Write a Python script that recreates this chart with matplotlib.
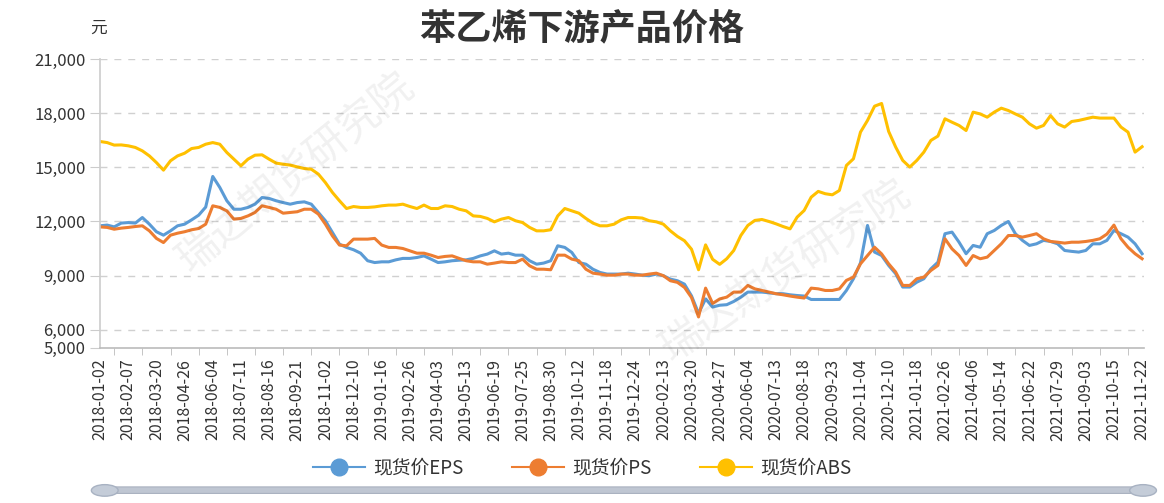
import numpy as np
import matplotlib
matplotlib.use("Agg")
import matplotlib.pyplot as plt
from matplotlib.patches import FancyBboxPatch, Circle
from matplotlib.ticker import FixedLocator, FuncFormatter

plt.rcParams['font.family'] = ['Noto Sans CJK SC', 'DejaVu Sans']

tick_labels = [
    "2018-01-02", "2018-02-07", "2018-03-20", "2018-04-26", "2018-06-04", "2018-07-11",
    "2018-08-16", "2018-09-21", "2018-11-02", "2018-12-10", "2019-01-16", "2019-02-26",
    "2019-04-03", "2019-05-13", "2019-06-19", "2019-07-25", "2019-08-30", "2019-10-12",
    "2019-11-18", "2019-12-24", "2020-02-13", "2020-03-20", "2020-04-27", "2020-06-04",
    "2020-07-13", "2020-08-18", "2020-09-23", "2020-11-04", "2020-12-10", "2021-01-18",
    "2021-02-26", "2021-04-06", "2021-05-14", "2021-06-22", "2021-07-29", "2021-09-03",
    "2021-10-15", "2021-11-22",
]

# values sampled four times per labelled interval
eps = [
    11760, 11800, 11700, 11910, 11940, 11910, 12220, 11850, 11430, 11240,
    11480, 11760, 11850, 12090, 12350, 12800, 14500, 13890, 13150, 12680,
    12680, 12780, 12960, 13330, 13280, 13150, 13050, 12960, 13050, 13090,
    12960, 12500, 12040, 11390, 10740, 10560, 10430, 10240, 9820, 9720,
    9760, 9760, 9870, 9950, 9950, 10000, 10090, 9910, 9720, 9760,
    9820, 9850, 9870, 9950, 10090, 10190, 10370, 10190, 10240, 10130,
    10130, 9820, 9630, 9690, 9820, 10650, 10560, 10280, 9720, 9630,
    9350, 9170, 9080, 9080, 9080, 9130, 9080, 9020, 8990, 9080,
    8990, 8800, 8710, 8520, 7870, 6900, 7700, 7250, 7350,
    7380, 7560, 7800, 8080, 8080, 8080, 8040, 7990, 7990, 7930,
    7890, 7860, 7670, 7670, 7670, 7670, 7670, 8170, 8820, 9700,
    11780, 10300, 10110, 9560, 9100, 8360, 8360, 8630, 8820, 9370,
    9740, 11320, 11410, 10850, 10210, 10670, 10570, 11320, 11500, 11780,
    12000, 11320, 10950, 10670, 10760, 10950, 10890, 10760, 10390, 10340,
    10300, 10390, 10760, 10760, 10950, 11500, 11320, 11130, 10760, 10210,
]

ps = [
    11700, 11670, 11570, 11630, 11670, 11720, 11760, 11480, 11060, 10830,
    11240, 11350, 11430, 11540, 11610, 11850, 12870, 12780, 12590, 12130,
    12170, 12310, 12500, 12870, 12780, 12680, 12460, 12500, 12540, 12680,
    12680, 12410, 11850, 11200, 10690, 10650, 11020, 11020, 11020, 11060,
    10690, 10560, 10560, 10500, 10370, 10240, 10240, 10130, 10000, 10060,
    10090, 9950, 9820, 9760, 9760, 9630, 9690, 9760, 9720, 9720,
    9910, 9540, 9350, 9350, 9320, 10130, 10130, 9910, 9820, 9350,
    9130, 9080, 9020, 9020, 9080, 9080, 9020, 9020, 9080, 9130,
    8990, 8710, 8620, 8340, 7780, 6700, 8300, 7450, 7700,
    7800, 8080, 8080, 8450, 8260, 8170, 8080, 7990, 7930, 7860,
    7800, 7750, 8300, 8260, 8170, 8170, 8260, 8730, 8910, 9650,
    10110, 10570, 10200, 9650, 9190, 8450, 8450, 8820, 8910, 9280,
    9560, 11040, 10480, 10110, 9560, 10110, 9930, 10020, 10390, 10760,
    11220, 11220, 11130, 11220, 11320, 11040, 10890, 10850, 10800, 10850,
    10850, 10890, 10950, 11040, 11300, 11800, 11040, 10570, 10210, 9930,
]

abs_ = [
    16440, 16380, 16240, 16250, 16200, 16110, 15920, 15640, 15270, 14850,
    15370, 15640, 15790, 16050, 16110, 16290, 16380, 16290, 15830, 15460,
    15090, 15460, 15680, 15700, 15460, 15240, 15180, 15130, 15030, 14940,
    14900, 14630, 14160, 13610, 13150, 12720, 12830, 12780, 12780, 12810,
    12870, 12910, 12910, 12960, 12830, 12720, 12910, 12720, 12720, 12870,
    12830, 12680, 12590, 12310, 12280, 12170, 11980, 12130, 12220, 12040,
    11940, 11670, 11480, 11480, 11540, 12310, 12720, 12590, 12460, 12170,
    11910, 11760, 11760, 11850, 12090, 12220, 12220, 12190, 12040, 11980,
    11850, 11480, 11170, 10930, 10460, 9320, 10700, 9900, 9620,
    9930, 10390, 11220, 11780, 12060, 12110, 12000, 11870, 11720, 11590,
    12240, 12610, 13350, 13670, 13540, 13480, 13720, 15110, 15480, 16960,
    17610, 18400, 18550, 17000, 16130, 15390, 15020, 15390, 15850, 16500,
    16740, 17700, 17510, 17330, 17050, 18070, 17970, 17790, 18070, 18290,
    18160, 17970, 17790, 17420, 17180, 17330, 17880, 17420, 17240, 17550,
    17610, 17700, 17790, 17740, 17740, 17740, 17240, 16960, 15850, 16150,
]

series = [
    ("现货价EPS", eps, "#5b9bd5"),
    ("现货价PS", ps, "#ed7d31"),
    ("现货价ABS", abs_, "#ffc000"),
]
y_ticks = [5000, 6000, 9000, 12000, 15000, 18000, 21000]

fig = plt.figure(figsize=(11.64, 5.03), dpi=100)
ax = fig.add_axes([0.086, 0.309, 0.897, 0.573])

x = np.arange(len(eps))
for name, vals, col in series:
    ax.plot(x, vals, color=col, lw=2.2, label=name, marker='o', markersize=0,
            solid_joinstyle='round')

ax.set_xlim(0, len(eps) - 0.7)
ax.set_ylim(5000, 21000)

ax.yaxis.set_major_locator(FixedLocator(y_ticks))
ax.yaxis.set_major_formatter(FuncFormatter(lambda v, p: f"{int(v):,}"))
for v in y_ticks[1:]:
    ax.axhline(v, color="#d0d0d0", lw=1, ls=(0, (5, 5)), zorder=0)

label_pos = np.arange(0, len(eps), 4)
ax.set_xticks(label_pos)
ax.set_xticklabels(tick_labels, rotation=90, fontsize=11.5, color="#333333")
ax.set_xticks(label_pos[:-1] + 2, minor=True)
ax.tick_params(axis='x', which='major', length=0, pad=8)
ax.tick_params(axis='x', which='minor', length=5, color="#bbbbbb")
ax.tick_params(axis='y', length=7, color="#cccccc", labelsize=12, labelcolor="#333333")

for s in ["top", "right"]:
    ax.spines[s].set_visible(False)
ax.spines["left"].set_color("#cccccc")
ax.spines["bottom"].set_color("#bbbbbb")
ax.spines["left"].set_linewidth(1.2)
ax.spines["bottom"].set_linewidth(1.2)

fig.text(0.5, 0.94, "苯乙烯下游产品价格", ha="center", va="center",
         fontsize=26, fontweight="bold", color="#333333")
fig.text(0.085, 0.943, "元", ha="center", va="center", fontsize=12, color="#333333")

# watermarks
fig.text(0.254, 0.655, "瑞达期货研究院", ha="center", va="center", fontsize=30,
         rotation=39, color="#000000", alpha=0.06, zorder=0)
fig.text(0.675, 0.46, "瑞达期货研究院", ha="center", va="center", fontsize=30,
         rotation=34, color="#000000", alpha=0.06, zorder=0)

leg = fig.legend(loc="center", bbox_to_anchor=(0.5, 0.07), ncol=3, frameon=False,
                 fontsize=13.5, handlelength=2.8, columnspacing=2.6, handletextpad=0.4)
for h in leg.legend_handles:
    h.set_markersize(12)
    h.set_linewidth(1.5)
for t in leg.get_texts():
    t.set_color("#333333")

# slider bar at the bottom
bar = FancyBboxPatch((0.088, 0.019), 0.895, 0.013, boxstyle="round,pad=0,rounding_size=0.005",
                     transform=fig.transFigure, facecolor="#bfc6d2", edgecolor="#aab2c0", lw=0.8)
fig.patches.append(bar)
for cx in (0.09, 0.982):
    c = Circle((cx, 0.025), 0.0115, transform=fig.transFigure, facecolor="#c4ccd8",
               edgecolor="#a8b2c2", lw=1)
    fig.patches.append(c)

fig.savefig("out.png", dpi=100)
